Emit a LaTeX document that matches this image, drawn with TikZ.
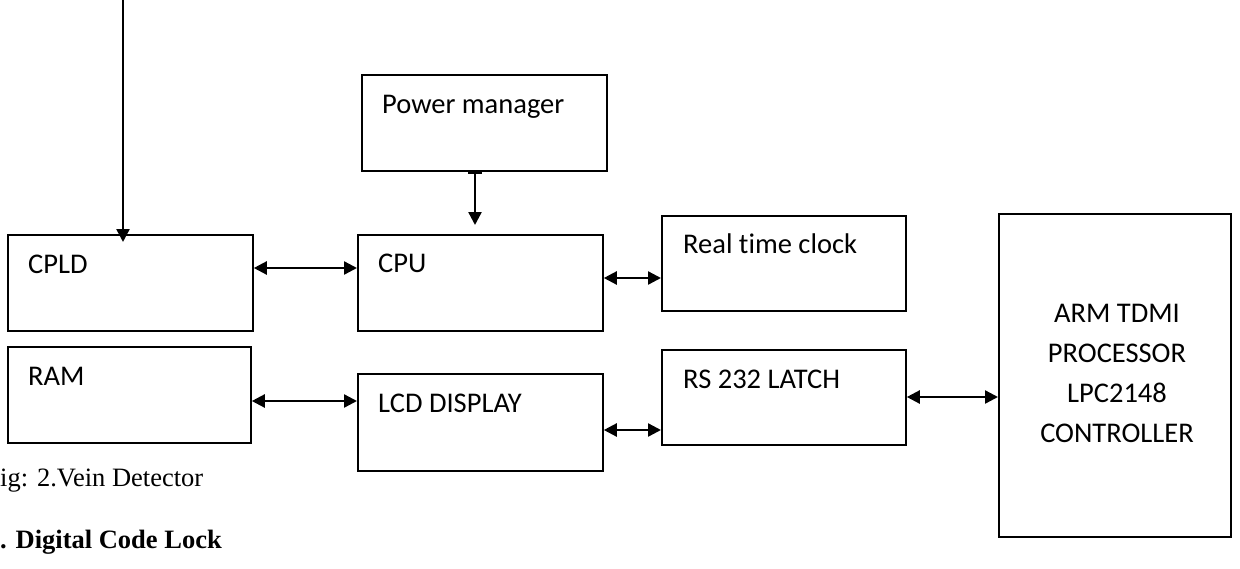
\documentclass[tikz,border=0pt]{standalone}
\usepackage{fontspec}
\setmainfont{Carlito}[Ligatures=NoCommon]
\newfontfamily\capfont{Liberation Serif}
\usetikzlibrary{arrows.meta,positioning}

\begin{document}
\begin{tikzpicture}[x=1pt,y=-1pt,
  box/.style={draw,line width=1.8pt,anchor=north west,inner sep=0pt},
  lab/.style={anchor=base west,inner sep=0pt,font=\fontsize{28.5}{34}\selectfont},
  legend/.style={anchor=base west,inner sep=0pt,font=\capfont\fontsize{26.5}{30}\selectfont},
  tip/.style={line width=2.4pt,-{Triangle[length=13pt,width=13pt]}},
  both/.style={line width=2.4pt,{Triangle[length=13pt,width=13pt]}-{Triangle[length=13pt,width=13pt]}}]
  \useasboundingbox (0,0) rectangle (1240,568);
  % blocs : nom, x, y, largeur, hauteur
  \def\blk#1#2#3#4#5{\node[box,minimum width=#4pt,minimum height=#5pt] (#1) at (#2,#3) {};}
  \blk{cpld}{7}{234}{245}{96}
  \blk{ram}{7}{346}{243}{96}
  \blk{power}{361}{74}{245}{96}
  \blk{cpu}{357}{234}{245}{96}
  \blk{lcd}{357}{373}{245}{97}
  \blk{rtc}{661}{215}{244}{95}
  \blk{latch}{661}{349}{244}{95}
  \blk{arm}{998}{213}{232}{323}
  % textes
  \node[lab] (cpldtxt) at (28,273) {CPLD};
  \node[lab] (ramtxt) at (28,385) {RAM};
  \node[lab] (powertxt) at (382,113) {Power manager};
  \node[lab] (cputxt) at (378,272) {CPU};
  \node[lab] (lcdtxt) at (378,412) {LCD DISPLAY};
  \node[lab] (rtctxt) at (683,253) {Real time clock};
  \node[lab] (latchtxt) at (683,388) {RS 232 LATCH};
  \foreach \t [count=\i] in {ARM TDMI,PROCESSOR,LPC2148,CONTROLLER}
    \node[lab,anchor=base] (arm\i) at (1117,282+40*\i) {\t};
  % liaisons
  \coordinate (src) at (123,0);
  \draw[tip,shorten >=-8pt] (src) -- (src |- cpld.north);
  \draw[line width=2.4pt,{Bar[width=14pt,line width=2pt]}-{Triangle[length=13pt,width=13pt]},shorten >=9pt]
    (power.south -| 475,0) -- (cpu.north -| 475,0);
  \draw[both] (cpld.east |- 0,268) -- (cpu.west |- 0,268);
  \draw[both] (cpu.east |- 0,278) -- (rtc.west |- 0,278);
  \draw[both] (ram.east |- 0,401) -- (lcd.west |- 0,401);
  \draw[both] (lcd.east |- 0,430) -- (latch.west |- 0,430);
  \draw[both] (latch.east |- 0,397) -- (arm.west |- 0,397);
  % legendes
  \node[legend] (fig) at (0,486) {ig: 2.Vein Detector};
  \node[legend,font=\capfont\bfseries\fontsize{26.5}{30}\selectfont] (sect) at (0,548) {. Digital Code Lock};
\end{tikzpicture}
\end{document}
